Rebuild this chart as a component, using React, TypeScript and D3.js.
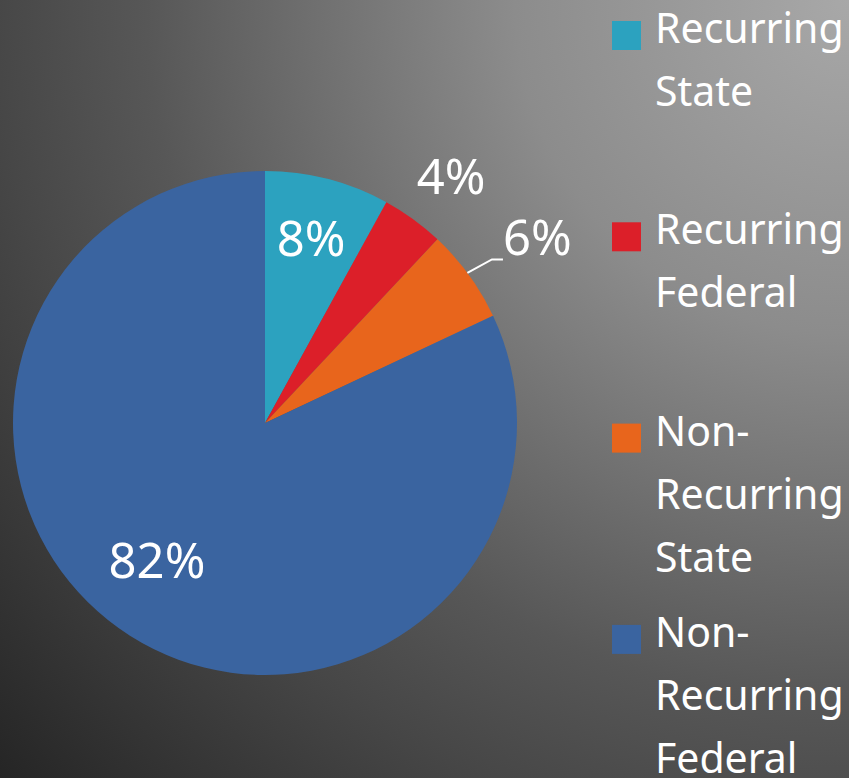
import React from "react";
import * as d3 from "d3";

const categories = ["Recurring State", "Recurring Federal", "Non-Recurring State", "Non-Recurring Federal"];
const values = [8, 4, 6, 82];
const labels = ["8%", "4%", "6%", "82%"];
const colors = ["#2ca2bf", "#dc1f29", "#e8651c", "#3a64a0"];

const W = 849;
const H = 778;
const cx = 265;
const cy = 423;
const R = 252;

// label placement: radius factor, angle nudge (deg), leader flag
const labelPlace = [
  { rf: 0.76, da: -0.5, leader: false },
  { rf: 1.23, da: 0.9, leader: false },
  { rf: 1.31, da: 1.6, leader: true },
  { rf: 0.69, da: 6, leader: false },
];

const FONT = "'Noto Sans', 'DejaVu Sans', sans-serif";

export default function App() {
  const pie = d3.pie<number>().value((d) => d).sort(null)(values);
  const arc = d3.arc<d3.PieArcDatum<number>>().innerRadius(0).outerRadius(R);

  const pt = (angle: number, r: number) => [cx + r * Math.sin(angle), cy - r * Math.cos(angle)];

  return (
    <svg width={W} height={H} style={{ position: "absolute", left: 0, top: 0 }}>
      <defs>
        <radialGradient id="bg" cx={W} cy={0} r={1152} gradientUnits="userSpaceOnUse">
          <stop offset="0" stopColor="#a8a8a8" />
          <stop offset="0.29" stopColor="#8c8c8c" />
          <stop offset="0.43" stopColor="#757575" />
          <stop offset="0.61" stopColor="#575757" />
          <stop offset="0.74" stopColor="#474747" />
          <stop offset="1" stopColor="#252525" />
        </radialGradient>
      </defs>
      <rect x={0} y={0} width={W} height={H} fill="url(#bg)" />
      <g transform={`translate(${cx},${cy})`}>
        {pie.map((p, i) => (
          <path key={i} d={arc(p) || ""} fill={colors[i]} />
        ))}
      </g>
      {pie.map((p, i) => {
        const mid = (p.startAngle + p.endAngle) / 2;
        const lp = labelPlace[i];
        const a = mid + (lp.da * Math.PI) / 180;
        const [x, y] = pt(a, R * lp.rf);
        let leader = null;
        if (lp.leader) {
          const [x0, y0] = pt(mid - 0.01, R);
          const [x1, y1] = pt(mid + 0.004, R * 1.11);
          leader = (
            <polyline
              points={`${x0},${y0} ${x1},${y1} ${x1 + 11},${y1}`}
              fill="none"
              stroke="#fff"
              strokeWidth={2}
            />
          );
        }
        return (
          <g key={i}>
            {leader}
            <text
              x={x}
              y={y}
              textAnchor="middle"
              dominantBaseline="central"
              fill="#fff"
              fontFamily={FONT}
              fontSize={49}
            >
              {labels[i]}
            </text>
          </g>
        );
      })}
      <g>
        {categories.map((c, i) => {
          const lines = c.replace("-", "- ").split(" ").map((s) => s.replace("- ", "-"));
          const base = 43 + 201.3 * i;
          return (
            <g key={c}>
              <rect x={612} y={base - 22} width={29} height={29} fill={colors[i]} />
              <text fill="#fff" fontFamily={FONT} fontSize={41}>
                {lines.map((l, j) => (
                  <tspan key={j} x={655} y={base + j * 63}>
                    {l}
                  </tspan>
                ))}
              </text>
            </g>
          );
        })}
      </g>
    </svg>
  );
}
